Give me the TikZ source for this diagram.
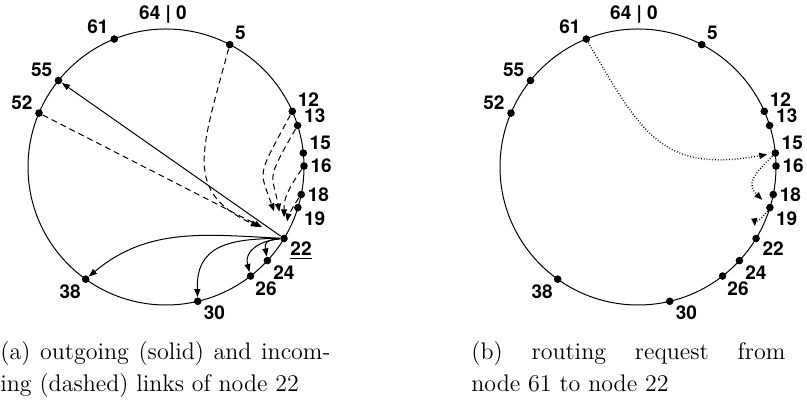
\documentclass[tikz,border=0pt]{standalone}
\usepackage{fontspec}
\newfontfamily\lblfont{TeX Gyre Heros}
\usetikzlibrary{arrows.meta,calc}

\begin{document}
\begin{tikzpicture}[x=0.5pt, y=0.5pt,
  dot/.style={circle, fill=black, inner sep=0pt, minimum size=3.8pt, label distance=0.3pt},
  lbl/.style={font=\lblfont\bfseries\fontsize{9.5}{11}\selectfont, inner sep=1pt},
  ring/.style={line width=0.5pt},
  link/.style={-{Triangle[length=4pt,width=3pt]}, line width=0.5pt},
  inlink/.style={link, dash pattern=on 3pt off 2pt},
  route/.style={link, line width=0.7pt, dash pattern=on 0.4pt off 1pt},
  captext/.style={font=\fontsize{12}{16}\selectfont, align=justify, inner sep=0pt, anchor=north west},
]
\useasboundingbox (0,0) rectangle (807,405);
\coordinate (cL) at (166,238);
\coordinate (cR) at (638,238);

% (a) fingers of node 22
\draw[ring] (cL) circle[radius=138];
\node[lbl] (topL) at ($(cL)+(-3,153)$) {64 | 0};
\foreach \p/\a/\d in {61/112/143, 5/62.5/45, 55/141.2/156, 52/157/164, 12/23.8/40,
                      13/17.5/3, 15/5.8/16, 16/0.4/0, 18/-11.5/0, 19/-17.1/-23,
                      22/-31.2/-15, 24/-42.7/-35, 26/-52.2/-54, 30/-76.7/-30, 38/-125.6/-129}
  \node[dot, label={[lbl]\d:\ifnum\p=22 \underline{\p}\else\p\fi}] (L\p) at ($(cL)+(\a:138)$) {};

% outgoing
\draw[link] (L22) to[out=185, in=100, looseness=1.6] (L24);
\draw[link] (L22) to[out=185, in=105, looseness=1.2] (L26);
\draw[link] (L22) to[out=180, in=92, looseness=1.3] (L30);
\draw[link] (L22) to[out=177, in=40] (L38);
\draw[link] (L22) -- (L55);

% incoming
\draw[inlink, shorten >=11.8pt] (L5) to[out=-105, in=155, looseness=1.4] (L22);
\draw[inlink, shorten >=12.3pt] (L12) to[out=-118, in=110, looseness=1.5] (L22);
\draw[inlink, shorten >=11.5pt] (L13) to[out=-120, in=100, looseness=1.5] (L22);
\draw[inlink, shorten >=8.5pt] (L16) to[out=-125, in=90, looseness=1.2] (L22);
\draw[inlink, shorten >=6.5pt] (L18) to[out=-125, in=80] (L22);
\draw[inlink, shorten >=10.3pt] (L52) -- (L22);

% (b) routing from 61 to 22
\draw[ring] (cR) circle[radius=138];
\node[lbl] (topR) at ($(cR)+(-4,153)$) {64 | 0};
\foreach \p/\a/\d in {61/112/143, 5/62.5/45, 55/141.2/156, 52/157/164, 12/23.8/40,
                      13/17.5/3, 15/5.8/16, 16/0.4/0, 18/-11.5/0, 19/-17.1/-23,
                      22/-31.2/-15, 24/-42.7/-35, 26/-52.2/-54, 30/-76.7/-30, 38/-125.6/-129}
  \node[dot, label={[lbl]\d:\p}] (R\p) at ($(cR)+(\a:138)$) {};

\draw[route, shorten >=2pt] (R61) to[out=-60, in=190, looseness=1.3] (R15);
\draw[route, shorten >=3.3pt] (R15) to[out=225, in=135, looseness=1.5] (R19);
\draw[route, shorten >=4pt] (R19) to[out=235, in=95] (R22);

% captions
\node[captext, text width=165pt] (capA) at (0,64)
  {(a) outgoing (solid) and incom-\linebreak ing (dashed) links of node 22};
\node[captext, text width=157pt] (capB) at (471,64)
  {(b) routing request from\linebreak node 61 to node 22};
\end{tikzpicture}
\end{document}
